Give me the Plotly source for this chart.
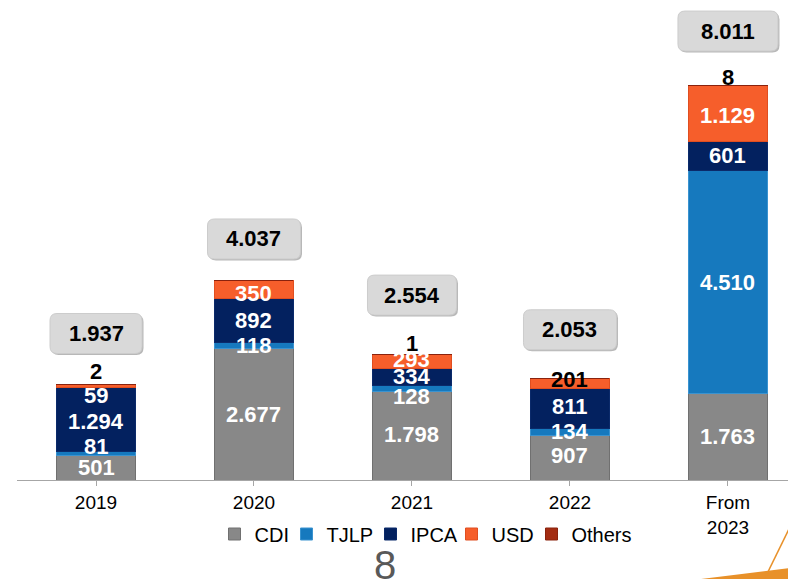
import plotly.graph_objects as go

# ---------------- data ----------------
years = ["2019", "2020", "2021", "2022", "From<br>2023"]
cdi = [501, 2677, 1798, 907, 1763]
tjlp = [81, 118, 128, 134, 4510]
ipca = [1294, 892, 334, 811, 601]
usd = [59, 350, 293, 201, 1129]
others = [2, 0, 1, 0, 8]
series_names = ["CDI", "TJLP", "IPCA", "USD", "Others"]
series_values = [cdi, tjlp, ipca, usd, others]
totals = [sum(v) for v in zip(*series_values)]

# ---------------- style ----------------
colors = ["#888888", "#1679be", "#03215f", "#f65e2b", "#a32c12"]
edge_colors = ["#707070", "#3a93d0", "#0b2a6a", "#e04e20", "#8a220d"]
# label vertical nudges (px, positive = up) per series / year
label_shift = [
    [0, 0, 1, 2, 0],
    [7, 0, -8, 0, -1],
    [-2, 0, 0, 2, 0],
    [-9, -4, 2, 4, -2],
    [13, 0, 11, 0, 8],
]
label_color = [
    ["white"] * 5,
    ["white"] * 5,
    ["white"] * 5,
    ["white", "white", "white", "black", "white"],
    ["black"] * 5,
]
box_shift = [51, 42, 59, 49, 54]   # px from bar top to box centre
box_w = [92, 93, 89, 93, 100]
box_h = 40
legend_marker_px = [234, 306, 390, 471, 551]
FONT = "Liberation Sans, Arial, sans-serif"
PL, PW, PB = 17, 771, 480   # plot left, width, bottom (px)


def fmt(v):
    return f"{v:,}".replace(",", ".")


fig = go.Figure()
xs = list(range(len(years)))
legend_ids = ["legend", "legend2", "legend3", "legend4", "legend5"]
for name, vals, c, ec, lg in zip(series_names, series_values, colors, edge_colors, legend_ids):
    fig.add_trace(go.Bar(
        x=xs, y=vals, name=name, width=0.5, legend=lg,
        marker=dict(color=c, line=dict(color=ec, width=1)),
        hoverinfo="skip",
    ))

annotations = []
base = [0] * len(years)
for s, vals in enumerate(series_values):
    for i, v in enumerate(vals):
        if v > 0:
            annotations.append(dict(
                x=i, y=base[i] + v / 2, xref="x", yref="y",
                text=f"<b>{fmt(v)}</b>", showarrow=False,
                yshift=label_shift[s][i],
                font=dict(family=FONT, size=22, color=label_color[s][i]),
            ))
        base[i] += v

shapes = []


def rrect(w, h, r, cx, cy):
    x0, x1 = cx - w / 2, cx + w / 2
    y0, y1 = cy - h / 2, cy + h / 2
    return (f"M{x0+r},{y0} L{x1-r},{y0} Q{x1},{y0} {x1},{y0+r} "
            f"L{x1},{y1-r} Q{x1},{y1} {x1-r},{y1} L{x0+r},{y1} "
            f"Q{x0},{y1} {x0},{y1-r} L{x0},{y0+r} Q{x0},{y0} {x0+r},{y0} Z")


for i, t in enumerate(totals):
    shapes.append(dict(
        type="path", xref="x", yref="y", xsizemode="pixel", ysizemode="pixel",
        xanchor=i, yanchor=t,
        path=rrect(box_w[i], box_h, 7, 1.5, box_shift[i] - 1.5),
        fillcolor="#b8b8b8", line=dict(width=0), layer="above",
    ))
    shapes.append(dict(
        type="path", xref="x", yref="y", xsizemode="pixel", ysizemode="pixel",
        xanchor=i, yanchor=t,
        path=rrect(box_w[i], box_h, 7, 0, box_shift[i]),
        fillcolor="#d9d9d9", line=dict(color="#cccccc", width=1), layer="above",
    ))
    annotations.append(dict(
        x=i, y=t, xref="x", yref="y", text=f"<b>{fmt(t)}</b>",
        showarrow=False, yshift=box_shift[i],
        font=dict(family=FONT, size=22, color="black"),
    ))


def px(xp):
    return (xp - PL) / PW


def py(yp):
    return (PB - yp) / PB


# page number
annotations.append(dict(
    x=px(385), y=py(565), xref="paper", yref="paper",
    text="8", showarrow=False, yanchor="middle",
    font=dict(family=FONT, size=40, color="#595959"),
))

# decorative swoosh bottom-right
shapes.append(dict(
    type="path", xref="paper", yref="paper",
    path=(f"M{px(693)},{py(580)} L{px(790)},{py(568)} L{px(790)},{py(580)} Z"),
    fillcolor="#e8912a", line=dict(width=0), layer="above",
))
shapes.append(dict(
    type="line", xref="paper", yref="paper",
    x0=px(764), y0=py(580), x1=px(790), y1=py(527),
    line=dict(color="#e8912a", width=1.5), layer="above",
))

legend_layouts = {}
for lg, m in zip(legend_ids, legend_marker_px):
    legend_layouts[lg] = dict(
        orientation="h", x=px(m - 19.5), y=py(534),
        xanchor="left", yanchor="middle",
        font=dict(family=FONT, size=20, color="black"),
        itemwidth=30, bgcolor="rgba(0,0,0,0)",
    )

fig.update_layout(
    width=788, height=579, autosize=False,
    margin=dict(l=PL, r=0, t=0, b=579 - PB, pad=0),
    paper_bgcolor="white", plot_bgcolor="white",
    barmode="stack",
    showlegend=True,
    xaxis=dict(
        range=[-0.5, 4.38], tickmode="array", tickvals=xs, ticktext=years,
        showline=True, linecolor="#a6a6a6", linewidth=1,
        ticks="outside", ticklen=5, tickcolor="#a6a6a6",
        showgrid=False, zeroline=False,
        tickfont=dict(family=FONT, size=19, color="black"),
        fixedrange=True,
    ),
    yaxis=dict(range=[0, 9736], visible=False, fixedrange=True),
    annotations=annotations, shapes=shapes,
    **legend_layouts,
)

fig.write_html(
    "out.html",
    config={"displayModeBar": False, "staticPlot": True},
    post_script="document.body.style.margin='0';document.body.style.overflow='hidden';",
)
